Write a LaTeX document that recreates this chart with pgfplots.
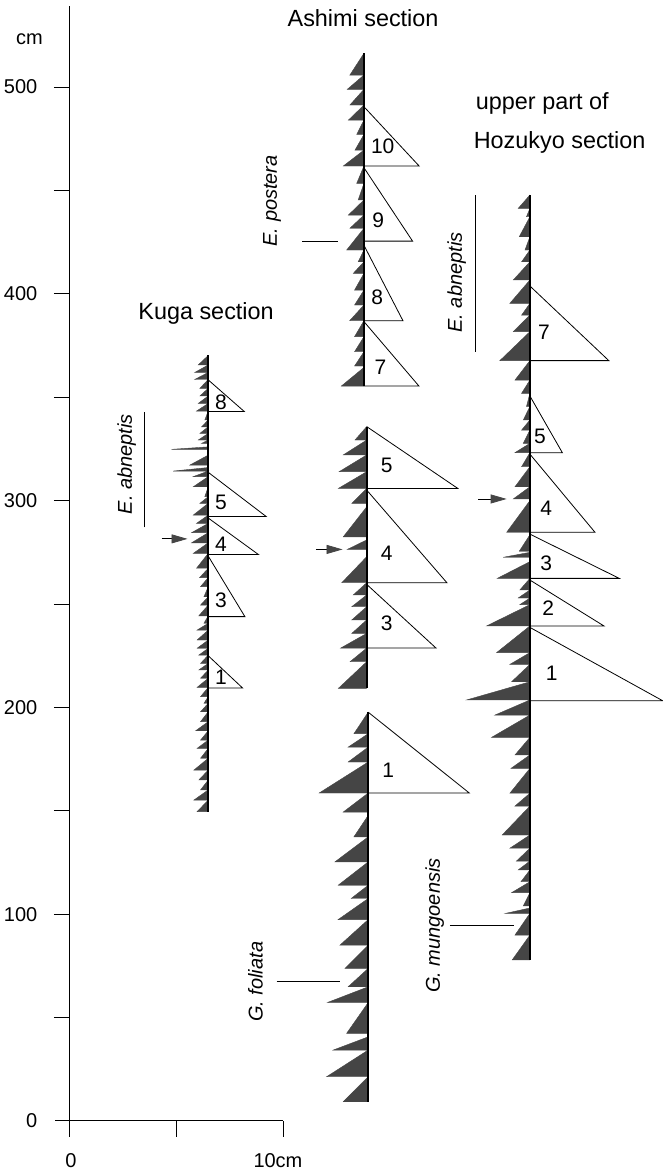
\documentclass[border=0pt]{standalone}
\usepackage{fontspec}
\setmainfont{Liberation Sans}
\usepackage{pgfplots}
\pgfplotsset{compat=1.18}
\usetikzlibrary{arrows.meta}
\definecolor{tooth}{gray}{0.27}
\newcommand{\fs}[1]{\fontsize{#1}{#1}\selectfont}
\begin{document}
\begin{tikzpicture}
\begin{axis}[
  scale only axis, width=331.5pt, height=585pt,
  xmin=-3.28, xmax=27.8, ymin=-23.7, ymax=542.1,
  hide axis, clip=false, unbounded coords=jump,
]
% ---------- axes ----------
\addplot[black, line width=0.5pt] coordinates {(0,-7.7) (0,539)};
\addplot[black, line width=0.5pt] coordinates {(-0.7,0) (10,0)};
\addplot[black, line width=0.5pt] coordinates {
(-0.75,50) (0,50) (nan,nan) (-0.75,100) (0,100) (nan,nan)
(-0.75,150) (0,150) (nan,nan) (-0.75,200) (0,200) (nan,nan)
(-0.75,250) (0,250) (nan,nan) (-0.75,300) (0,300) (nan,nan)
(-0.75,350) (0,350) (nan,nan) (-0.75,400) (0,400) (nan,nan)
(-0.75,450) (0,450) (nan,nan) (-0.75,500) (0,500) (nan,nan)
(0,0) (0,-7.7) (nan,nan) (5,0) (5,-7.7) (nan,nan) (10,0) (10,-7.7)};
\node[anchor=east, font=\fs{10}] at (axis cs:-1.2,0) {0};
\node[anchor=east, font=\fs{10}] at (axis cs:-1.2,100) {100};
\node[anchor=east, font=\fs{10}] at (axis cs:-1.2,200) {200};
\node[anchor=east, font=\fs{10}] at (axis cs:-1.2,300) {300};
\node[anchor=east, font=\fs{10}] at (axis cs:-1.2,400) {400};
\node[anchor=east, font=\fs{10}] at (axis cs:-1.2,500) {500};
\node[font=\fs{10}] at (axis cs:-1.9,523) {cm};
\node[font=\fs{10}] at (axis cs:0.05,-19) {0};
\node[font=\fs{10}] at (axis cs:9.75,-19) {10cm};

% ---------- dark teeth ----------
% Kuga
\addplot[fill=tooth, draw=tooth, line width=0.2pt] table[row sep=\\, x expr=6.48-\thisrow{w}, y=y] {
w y\\
0 149.6\\ 0.52 149.6\\ 0 155.2\\ 0.67 155.2\\ 0 160.1\\ 0.36 160.1\\
0 164.9\\ 0.44 164.9\\ 0 169.7\\ 0.67 169.7\\ 0 175.4\\ 0.36 175.4\\
0 180.2\\ 0.52 180.2\\ 0 184.2\\ 0.36 184.2\\ 0 188.7\\ 0.59 188.7\\
0 193.1\\ 0.36 193.1\\ 0 197.9\\ 0.36 197.9\\ 0 202.0\\ 0.2 202.0\\
0 205.2\\ 0.36 205.2\\ 0 209.7\\ 0.52 209.7\\ 0 214.1\\ 0.36 214.1\\
0 218.1\\ 0.44 218.1\\ 0 221.3\\ 0.36 221.3\\ 0 225.3\\ 0.44 225.3\\
0 228.6\\ 0.52 228.6\\ 0 232.6\\ 0.52 232.6\\ 0 237.4\\ 0.52 237.4\\
0 240.7\\ 0.2 240.7\\ 0 244.3\\ 0.44 244.3\\ 0 249.5\\ 0.36 249.5\\
0 253.5\\ 0.2 253.5\\ 0 258.4\\ 0.36 258.4\\ 0 262.8\\ 0.4 262.8\\
0 267.3\\ 0.55 267.3\\ 0 274.5\\ 0.70 274.5\\ 0 279.6\\ 0.78 279.6\\
0 284.5\\ 0.78 284.5\\ 0 289.0\\ 0.55 289.0\\ 0 293.0\\ 0.70 293.0\\
0 298.7\\ 0.39 298.7\\ 0 301.9\\ 0.16 301.9\\ 0 306.7\\ 0.70 306.7\\
0 311.6\\ 0.70 311.6\\ 0 314.3\\ 1.64 314.3\\ 0 316.0\\ 0 317.2\\
0.86 317.2\\ 0 322.0\\ 0 324.8\\ 1.72 324.8\\ 0 326.0\\ 0 327.7\\
0.31 327.7\\ 0 329.3\\ 0.47 329.3\\ 0 332.5\\ 0.39 332.5\\ 0 335.7\\
0.31 335.7\\ 0 339.0\\ 0.16 339.0\\ 0 343.3\\ 0.55 343.3\\ 0 347.0\\
0.47 347.0\\ 0 350.6\\ 0.39 350.6\\ 0 354.3\\ 0.39 354.3\\ 0 358.6\\
0.63 358.6\\ 0 362.0\\ 0.63 362.0\\ 0 365.6\\ 0.47 365.6\\ 0 370.2\\
};
% Ashimi upper
\addplot[fill=tooth, draw=tooth, line width=0.2pt] table[row sep=\\, x expr=13.78-\thisrow{w}, y=y] {
w y\\
0 355.4\\ 1.06 355.4\\ 0 364.4\\ 0 365.1\\ 0.44 365.1\\ 0 372.0\\
0.44 372.0\\ 0 379.3\\ 0.44 379.3\\ 0 387.0\\ 0.67 387.0\\ 0 394.6\\
0.44 394.6\\ 0 401.8\\ 0.44 401.8\\ 0 409.9\\ 0.5 409.9\\ 0 415.5\\
0.27 415.5\\ 0 421.2\\ 0.81 421.2\\ 0 431.7\\ 0.66 431.7\\
0 438.1\\ 0.73 438.1\\ 0 445.4\\ 0.27 445.4\\ 0 453.4\\ 0.34 453.4\\
0 461.8\\ 0.97 461.8\\ 0 469.5\\ 0.42 469.5\\ 0 477.1\\ 0.34 477.1\\
0 484.0\\ 0.73 484.0\\ 0 491.3\\ 0.66 491.3\\ 0 498.9\\ 0.78 498.9\\
0 505.8\\ 0.66 505.8\\ 0 516.3\\
};
% Ashimi middle
\addplot[fill=tooth, draw=tooth, line width=0.2pt] table[row sep=\\, x expr=13.91-\thisrow{w}, y=y] {
w y\\
0 209.2\\ 1.33 209.2\\ 0 222.1\\ 0.78 222.1\\ 0 228.7\\ 1.22 228.7\\
0 235.8\\ 0.7 235.8\\ 0 242.3\\ 0.7 242.3\\ 0 248.7\\ 0.7 248.7\\
0 254.4\\ 0.63 254.4\\ 0 260.3\\ 1.17 260.3\\ 0 272.9\\ 0 276.4\\
0.91 276.4\\ 0 281.0\\ 0 282.5\\ 1.10 282.5\\ 0 297.0\\ 0 298.7\\
0.70 298.7\\ 0 305.9\\ 1.33 305.9\\ 0 314.0\\ 1.29 314.0\\ 0 322.1\\
1.10 322.1\\ 0 329.3\\ 0.55 329.3\\ 0 335.8\\
};
% Ashimi lower
\addplot[fill=tooth, draw=tooth, line width=0.2pt] table[row sep=\\, x expr=13.98-\thisrow{w}, y=y] {
w y\\
0 9.3\\ 1.17 9.3\\ 0 21.4\\ 1.95 21.4\\ 0 34.3\\ 1.64 34.3\\ 0 40.7\\
0 42.4\\ 1.01 42.4\\ 0 57.3\\ 1.91 57.3\\ 0 64.9\\ 0.94 64.9\\
0 73.8\\ 1.09 73.8\\ 0 85.0\\ 1.33 85.0\\ 0 97.4\\ 1.41 97.4\\
0 107.6\\ 0.8 107.6\\ 0 114.0\\ 1.41 114.0\\ 0 125.3\\ 1.56 125.3\\
0 137.4\\ 0.67 137.4\\ 0 147.8\\ 0 149.4\\ 1.17 149.4\\ 0 158.6\\
2.30 158.6\\ 0 173.6\\ 0.94 173.6\\ 0 180.8\\ 0.94 180.8\\ 0 187.3\\
0.67 187.3\\ 0 197.7\\
};
% Hozukyo
\addplot[fill=tooth, draw=tooth, line width=0.2pt] table[row sep=\\, x expr=21.56-\thisrow{w}, y=y] {
w y\\
0 77.9\\ 0.83 77.9\\ 0 89.9\\ 0.70 89.9\\ 0 100.4\\ 1.14 100.4\\ 0 103.0\\
0 104.0\\ 0.31 104.0\\ 0 110.4\\ 0.86 110.4\\ 0 115.7\\ 0.42 115.7\\
0 121.4\\ 0.55 121.4\\ 0 125.7\\ 0.63 125.7\\ 0 131.9\\ 0.94 131.9\\
0 138.3\\ 1.30 138.3\\ 0 152.3\\ 0.70 152.3\\ 0 158.5\\ 0.94 158.5\\
0 170.5\\ 0.89 170.5\\ 0 177.0\\ 0.70 177.0\\ 0 185.5\\ 1.80 185.5\\
0 196.3\\ 1.64 196.3\\ 0 203.6\\ 2.97 203.6\\ 0 212.4\\ 0.86 212.4\\
0 220.8\\ 0.94 220.8\\ 0 226.5\\ 1.56 226.5\\ 0 239.4\\ 2.03 239.4\\
0 249.7\\ 0.47 249.7\\ 0 252.9\\ 0.55 252.9\\ 0 256.8\\ 0.47 256.8\\
0 262.4\\ 1.53 262.4\\ 0 270.5\\ 0 272.6\\ 1.25 272.6\\ 0 275.0\\
0 275.5\\ 0.5 275.5\\ 0 283.5\\ 0 284.7\\ 1.09 284.7\\ 0 300.0\\
0 300.8\\ 0.78 300.8\\ 0 306.7\\ 0.70 306.7\\ 0 316.4\\ 0.39 316.4\\
0 323.2\\ 0.70 323.2\\ 0 327.7\\ 0.31 327.7\\ 0 334.1\\ 0.39 334.1\\
0 339.0\\ 0.31 339.0\\ 0 345.5\\ 0.16 345.5\\ 0 351.9\\ 0.39 351.9\\
0 358.3\\ 0.70 358.3\\ 0 367.7\\ 1.41 367.7\\ 0 381.7\\ 0.78 381.7\\
0 389.7\\ 0.39 389.7\\ 0 395.4\\ 0.94 395.4\\ 0 406.7\\ 0.78 406.7\\
0 415.5\\ 0.39 415.5\\ 0 421.2\\ 0.23 421.2\\ 0 427.6\\ 0.5 427.6\\
0 437.3\\ 0.16 437.3\\ 0 441.3\\ 0.55 441.3\\ 0 447.8\\
};

% ---------- white triangles ----------
\pgfplotsset{wt/.style={fill=white, draw=black, line width=0.4pt}}
% Kuga
\addplot[wt] coordinates {(6.48,358.4) (8.17,343.1) (6.48,343.1)};
\addplot[wt] coordinates {(6.48,313.7) (9.20,292.3) (6.48,292.3)};
\addplot[wt] coordinates {(6.48,291.6) (8.84,273.9) (6.48,273.9)};
\addplot[wt] coordinates {(6.48,273.2) (8.20,243.9) (6.48,243.9)};
\addplot[wt] coordinates {(6.48,225.0) (8.09,209.4) (6.48,209.4)};
% Ashimi
\addplot[wt] coordinates {(13.78,490.5) (16.37,461.8) (13.78,461.8)};
\addplot[wt] coordinates {(13.78,461.0) (16.06,425.5) (13.78,425.5)};
\addplot[wt] coordinates {(13.78,423.5) (15.61,387.0) (13.78,387.0)};
\addplot[wt] coordinates {(13.78,386.6) (16.36,355.4) (13.78,355.4)};
\addplot[wt] coordinates {(13.91,335.8) (18.18,305.9) (13.91,305.9)};
\addplot[wt] coordinates {(13.91,305.1) (17.67,260.3) (13.91,260.3)};
\addplot[wt] coordinates {(13.91,259.5) (17.16,228.7) (13.91,228.7)};
\addplot[wt] coordinates {(13.98,197.7) (18.72,158.6) (13.98,158.6)};
% Hozukyo
\addplot[wt] coordinates {(21.56,403.8) (25.26,367.7) (21.56,367.7)};
\addplot[wt] coordinates {(21.56,350.6) (23.08,323.2) (21.56,323.2)};
\addplot[wt] coordinates {(21.56,322.5) (24.61,284.7) (21.56,284.7)};
\addplot[wt] coordinates {(21.56,283.8) (25.75,262.4) (21.56,262.4)};
\addplot[wt] coordinates {(21.56,261.6) (25.03,239.4) (21.56,239.4)};
\addplot[wt] coordinates {(21.56,238.7) (27.79,203.2) (21.56,203.2)};

% ---------- section lines ----------
\addplot[black, line width=0.8pt] coordinates {(6.48,149.6) (6.48,370.2)};
\addplot[black, line width=1pt] coordinates {(13.78,355.4) (13.78,516.3)};
\addplot[black, line width=1pt] coordinates {(13.91,209.2) (13.91,335.8)};
\addplot[black, line width=1pt] coordinates {(13.98,9.3) (13.98,197.7)};
\addplot[black, line width=1pt] coordinates {(21.56,77.9) (21.56,447.8)};

% ---------- triangle numbers ----------
\node[font=\fs{10.5}] at (axis cs:7.08,347.6) {8};
\node[font=\fs{10.5}] at (axis cs:7.08,299.2) {5};
\node[font=\fs{10.5}] at (axis cs:7.08,279.0) {4};
\node[font=\fs{10.5}] at (axis cs:7.08,251.6) {3};
\node[font=\fs{10.5}] at (axis cs:7.08,214.5) {1};
\node[font=\fs{10.5}] at (axis cs:14.66,471.2) {10};
\node[font=\fs{10.5}] at (axis cs:14.45,435.7) {9};
\node[font=\fs{10.5}] at (axis cs:14.40,398.3) {8};
\node[font=\fs{10.5}] at (axis cs:14.55,364.4) {7};
\node[font=\fs{10.5}] at (axis cs:14.85,317.2) {5};
\node[font=\fs{10.5}] at (axis cs:14.85,274.5) {4};
\node[font=\fs{10.5}] at (axis cs:14.85,240.7) {3};
\node[font=\fs{10.5}] at (axis cs:14.92,169.6) {1};
\node[font=\fs{10.5}] at (axis cs:22.22,381.2) {7};
\node[font=\fs{10.5}] at (axis cs:22.03,331.2) {5};
\node[font=\fs{10.5}] at (axis cs:22.32,296.3) {4};
\node[font=\fs{10.5}] at (axis cs:22.32,269.7) {3};
\node[font=\fs{10.5}] at (axis cs:22.42,247.9) {2};
\node[font=\fs{10.5}] at (axis cs:22.58,216.5) {1};

% ---------- arrows ----------
\addplot[black, line width=0.4pt, -{Triangle[length=8pt,width=4.5pt,color=tooth]}] coordinates {(4.30,281.5) (5.51,281.5)};
\addplot[black, line width=0.4pt, -{Triangle[length=8pt,width=4.5pt,color=tooth]}] coordinates {(11.53,276.4) (12.78,276.4)};
\addplot[black, line width=0.4pt, -{Triangle[length=8pt,width=4.5pt,color=tooth]}] coordinates {(19.14,300.8) (20.47,300.8)};

% ---------- species markers ----------
\addplot[black, line width=0.5pt] coordinates {(3.48,287.1) (3.48,342.7)};
\node[rotate=90, font=\fs{10}\itshape] at (axis cs:2.66,317.7) {E. abneptis};
\addplot[black, line width=0.5pt] coordinates {(10.9,425.2) (12.58,425.2)};
\node[rotate=90, font=\fs{10}\itshape] at (axis cs:9.47,445) {E. postera};
\addplot[black, line width=0.5pt] coordinates {(18.99,372.0) (18.99,447.8)};
\node[rotate=90, font=\fs{10}\itshape] at (axis cs:18.13,405.5) {E. abneptis};
\addplot[black, line width=0.5pt] coordinates {(9.69,67.3) (12.66,67.3)};
\node[rotate=90, font=\fs{10}\itshape] at (axis cs:8.7,67.3) {G. foliata};
\addplot[black, line width=0.5pt] coordinates {(17.81,94.5) (20.81,94.5)};
\node[rotate=90, font=\fs{10}\itshape] at (axis cs:17.1,94.5) {G. mungoensis};

% ---------- titles ----------
\node[font=\fs{11.7}] at (axis cs:6.38,390.7) {Kuga section};
\node[font=\fs{11.7}] at (axis cs:13.74,533.4) {Ashimi section};
\node[anchor=west, font=\fs{11.7}] at (axis cs:18.7,492.3) {upper part of};
\node[anchor=west, font=\fs{11.7}] at (axis cs:18.6,473.0) {Hozukyo section};
\end{axis}
\pgfresetboundingbox
\useasboundingbox (current axis.south west) rectangle (current axis.north east);
\end{tikzpicture}
\end{document}
